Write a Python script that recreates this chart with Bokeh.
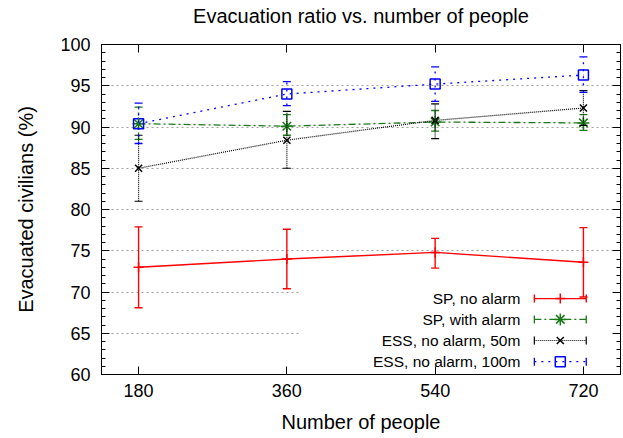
from bokeh.plotting import figure
from bokeh.models import (ColumnDataSource, Whisker, TeeHead, Range1d, LinearAxis,
                          FixedTicker, SingleIntervalTicker, Label, Arrow, BoxAnnotation,
                          CustomLabelingPolicy, CustomJSTickFormatter)
from bokeh.embed import file_html
from bokeh.resources import INLINE

# ---------------- data ----------------
people = [180, 360, 540, 720]

sp_no_alarm = [73.0, 74.0, 74.8, 73.6]
sp_no_alarm_lo = [68.1, 70.4, 72.9, 69.4]
sp_no_alarm_hi = [77.9, 77.6, 76.5, 77.8]

sp_with_alarm = [90.4, 90.1, 90.6, 90.5]
sp_with_alarm_lo = [88.5, 89.0, 89.5, 89.6]
sp_with_alarm_hi = [92.4, 91.5, 92.0, 91.5]

ess_50m = [85.0, 88.4, 90.8, 92.3]
ess_50m_lo = [81.0, 85.0, 88.6, 90.2]
ess_50m_hi = [89.0, 91.9, 92.8, 94.4]

ess_100m = [90.4, 94.0, 95.2, 96.3]
ess_100m_lo = [88.0, 92.6, 93.1, 94.2]
ess_100m_hi = [92.9, 95.5, 97.3, 98.5]

series_names = ["SP, no alarm", "SP, with alarm", "ESS, no alarm, 50m", "ESS, no alarm, 100m"]

FONT = "Liberation Sans"

p = figure(width=623, height=438, output_backend="svg", toolbar_location=None,
           x_range=Range1d(135, 765), y_range=Range1d(60, 100),
           title="Evacuation ratio vs. number of people",
           min_border_left=101, min_border_right=3, min_border_top=44, min_border_bottom=64)
p.extra_x_ranges = {"kx": Range1d(0, 1)}
p.extra_y_ranges = {"ky": Range1d(0, 1)}

p.title.align = "center"
p.title.text_font = FONT
p.title.text_font_size = "20px"
p.title.text_font_style = "normal"
p.title.text_color = "black"
p.title.standoff = 0

p.outline_line_color = "black"
p.outline_line_width = 1
p.background_fill_color = "white"
p.border_fill_color = "white"

p.xgrid.visible = False
p.ygrid.grid_line_color = "#a0a0a0"
p.ygrid.grid_line_dash = "2 3"
p.ygrid.grid_line_width = 1

def style_axis(ax, show_labels=True):
    ax.axis_line_color = "black"
    ax.major_tick_line_color = "black"
    ax.minor_tick_line_color = "black"
    ax.major_tick_in = 8
    ax.major_tick_out = 0
    ax.minor_tick_in = 4
    ax.minor_tick_out = 0
    ax.major_label_text_font = FONT
    ax.major_label_text_color = "black"
    ax.axis_label_text_font = FONT
    ax.axis_label_text_font_style = "normal"
    ax.axis_label_text_color = "black"
    if not show_labels:
        ax.formatter = CustomJSTickFormatter(code="return ''")
        ax.major_label_policy = CustomLabelingPolicy(code="""
for (const i of indices)
    indices.unset(i)
""")
        ax.major_label_standoff = 0

p.xaxis.ticker = FixedTicker(ticks=people)
p.yaxis.ticker = SingleIntervalTicker(interval=5, num_minor_ticks=5)
style_axis(p.xaxis[0])
style_axis(p.yaxis[0])
p.xaxis.minor_tick_line_color = None
p.xaxis.major_label_text_font_size = "18px"
p.yaxis.major_label_text_font_size = "18px"
p.xaxis.major_label_standoff = 9
p.yaxis.major_label_standoff = 11
p.xaxis.axis_label = "Number of people"
p.yaxis.axis_label = "Evacuated civilians (%)"
p.xaxis.axis_label_text_font_size = "20px"
p.yaxis.axis_label_text_font_size = "20px"
p.xaxis.axis_label_standoff = 11
p.yaxis.axis_label_standoff = 20

# mirrored top axis (ticks inward, no labels)
top_ax = LinearAxis(ticker=FixedTicker(ticks=people))
style_axis(top_ax, show_labels=False)
top_ax.minor_tick_line_color = None
p.add_layout(top_ax, "above")
# invisible spacer between frame and title
spacer = LinearAxis(ticker=FixedTicker(ticks=people))
style_axis(spacer, show_labels=False)
spacer.axis_line_color = None
spacer.major_tick_line_color = None
spacer.minor_tick_line_color = None
spacer.major_tick_in = 0
spacer.major_tick_out = 18
spacer.minor_tick_in = 0
spacer.minor_tick_out = 0
p.add_layout(spacer, "above")

right_ax = LinearAxis(ticker=SingleIntervalTicker(interval=5, num_minor_ticks=5))
style_axis(right_ax, show_labels=False)
p.add_layout(right_ax, "right")

# opaque key background
p.add_layout(BoxAnnotation(left=0.382, right=0.997, bottom=0.003, top=0.262,
                           x_range_name="kx", y_range_name="ky",
                           fill_color="white", fill_alpha=1.0, line_alpha=0,
                           level="underlay"))

styles = [
    dict(color="#ff0000", dash="solid", marker="cross", size=10, width=1.4),
    dict(color="#1a7a1a", dash="7 3 2 3", marker="asterisk", size=12, width=1.3),
    dict(color="#000000", dash="1 1", marker="x", size=10, width=1.2),
    dict(color="#0000ff", dash="2 5", marker="square", size=10, width=1.3),
]
values = [sp_no_alarm, sp_with_alarm, ess_50m, ess_100m]
lows = [sp_no_alarm_lo, sp_with_alarm_lo, ess_50m_lo, ess_100m_lo]
highs = [sp_no_alarm_hi, sp_with_alarm_hi, ess_50m_hi, ess_100m_hi]

key_rows = [0.230, 0.167, 0.103, 0.039]

for name, vals, lo, hi, st, ky in zip(series_names, values, lows, highs, styles, key_rows):
    src = ColumnDataSource(dict(x=people, y=vals, lo=lo, hi=hi))
    p.line("x", "y", source=src, line_color=st["color"], line_dash=st["dash"], line_width=st["width"])
    p.add_layout(Whisker(source=src, base="x", lower="lo", upper="hi", dimension="height",
                         line_color=st["color"], line_dash=st["dash"], line_width=st["width"],
                         upper_head=TeeHead(size=8, line_color=st["color"], line_width=st["width"]),
                         lower_head=TeeHead(size=8, line_color=st["color"], line_width=st["width"]),
                         level="glyph"))
    p.scatter("x", "y", source=src, marker=st["marker"], size=st["size"],
              line_color=st["color"], fill_color=None, line_width=1.5)
    # key entry
    p.add_layout(Label(x=0.807, y=ky, x_range_name="kx", y_range_name="ky", text=name,
                       text_align="right", text_baseline="middle", text_font=FONT,
                       text_font_size="15.5px", text_color="black"))
    p.add_layout(Arrow(x_start=0.834, y_start=ky, x_end=0.934, y_end=ky,
                       x_range_name="kx", y_range_name="ky",
                       line_color=st["color"], line_dash=st["dash"], line_width=st["width"],
                       start=TeeHead(size=8, line_color=st["color"], line_width=st["width"]),
                       end=TeeHead(size=8, line_color=st["color"], line_width=st["width"])))
    p.scatter(x=[0.884], y=[ky], x_range_name="kx", y_range_name="ky",
              marker=st["marker"], size=st["size"], line_color=st["color"],
              fill_color=None, line_width=1.5)

open("out.html", "w").write(file_html(p, INLINE))
